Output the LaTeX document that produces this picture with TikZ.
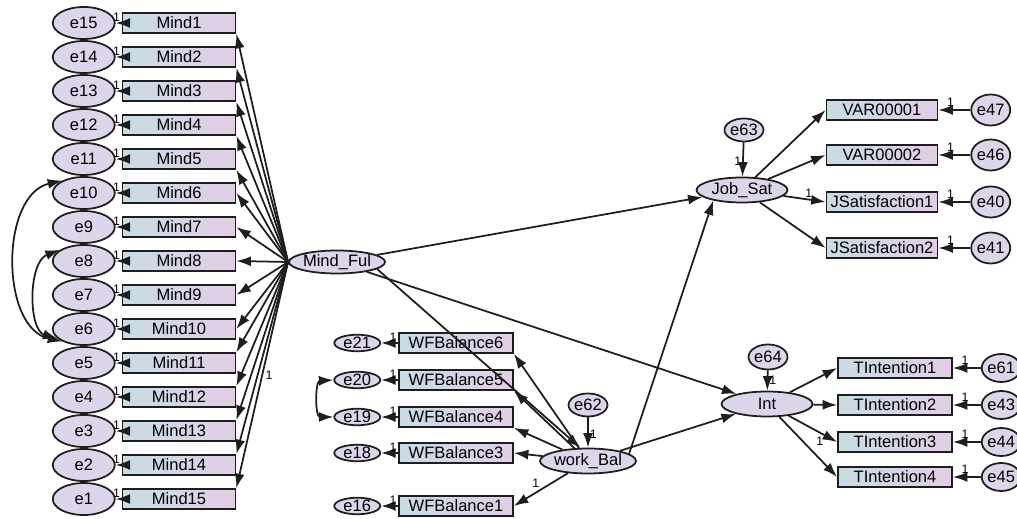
\documentclass[tikz,border=0pt]{standalone}
\usepackage{fontspec}
\setmainfont{Liberation Sans}
\usetikzlibrary{arrows.meta,chains,positioning,shapes.geometric}
\definecolor{lavfill}{RGB}{221,214,234}
\definecolor{boxleft}{RGB}{200,220,228}
\definecolor{boxright}{RGB}{226,206,230}
\definecolor{inkline}{RGB}{30,30,30}

\begin{document}
\begin{tikzpicture}[x=0.02cm, y=-0.02cm,
node distance = 2.45mm and 1.2mm,
  start chain = going below,
font=\fontsize{9.4}{11}\selectfont,
box/.style = {draw=inkline, line width=1pt,
              left color=boxleft, right color=boxright,
              minimum width=2.26cm, minimum height=0.4cm, inner sep=0pt},
mbox/.style = {box, on chain},
err/.style = {ellipse, draw=inkline, line width=1pt, fill=lavfill,
              inner sep=0pt, minimum width=1.24cm, minimum height=0.64cm},
smallerr/.style = {err, minimum width=0.92cm, minimum height=0.32cm},
rerr/.style = {err, minimum width=0.7cm, minimum height=0.62cm},
dist/.style = {err, minimum width=0.78cm, minimum height=0.46cm},
latent/.style = {err, minimum width=1.82cm, minimum height=0.5cm},
arr/.style = {draw=inkline, line width=1pt,
              -{Latex[length=2.9mm,width=2mm]}},
cov/.style = {arr, {Latex[length=2.9mm,width=2mm]}-{Latex[length=2.9mm,width=2mm]}},
one/.style = {font=\fontsize{7}{8}\selectfont, inner sep=0.5pt}
                ]
\useasboundingbox (0,0) rectangle (1017,519);

%% mindfulness items
\node (m1) [mbox] at (179,23) {Mind1};
\node (m2) [mbox] {Mind2};
\node (m3) [mbox] {Mind3};
\node (m4) [mbox] {Mind4};
\node (m5) [mbox] {Mind5};
\node (m6) [mbox] {Mind6};
\node (m7) [mbox] {Mind7};
\node (m8) [mbox] {Mind8};
\node (m9) [mbox] {Mind9};
\node (m10) [mbox] {Mind10};
\node (m11) [mbox] {Mind11};
\node (m12) [mbox] {Mind12};
\node (m13) [mbox] {Mind13};
\node (m14) [mbox] {Mind14};
\node (m15) [mbox] {Mind15};
\node (e15) [err, left=1.2mm of m1] {e15};
\node (e14) [err, left=1.2mm of m2] {e14};
\node (e13) [err, left=1.2mm of m3] {e13};
\node (e12) [err, left=1.2mm of m4] {e12};
\node (e11) [err, left=1.2mm of m5] {e11};
\node (e10) [err, left=1.2mm of m6] {e10};
\node (e9) [err, left=1.2mm of m7] {e9};
\node (e8) [err, left=1.2mm of m8] {e8};
\node (e7) [err, left=1.2mm of m9] {e7};
\node (e6) [err, left=1.2mm of m10] {e6};
\node (e5) [err, left=1.2mm of m11] {e5};
\node (e4) [err, left=1.2mm of m12] {e4};
\node (e3) [err, left=1.2mm of m13] {e3};
\node (e2) [err, left=1.2mm of m14] {e2};
\node (e1) [err, left=1.2mm of m15] {e1};
\node (mf) [latent, minimum height=0.46cm] at (337,262) {Mind\_Ful};

\draw[arr] (m1.west) -- node[one, pos=0, anchor=south east] {1} (e15);
\draw[arr] (m2.west) -- node[one, pos=0, anchor=south east] {1} (e14);
\draw[arr] (m3.west) -- node[one, pos=0, anchor=south east] {1} (e13);
\draw[arr] (m4.west) -- node[one, pos=0, anchor=south east] {1} (e12);
\draw[arr] (m5.west) -- node[one, pos=0, anchor=south east] {1} (e11);
\draw[arr] (m6.west) -- node[one, pos=0, anchor=south east] {1} (e10);
\draw[arr] (m7.west) -- node[one, pos=0, anchor=south east] {1} (e9);
\draw[arr] (m8.west) -- node[one, pos=0, anchor=south east] {1} (e8);
\draw[arr] (m9.west) -- node[one, pos=0, anchor=south east] {1} (e7);
\draw[arr] (m10.west) -- node[one, pos=0, anchor=south east] {1} (e6);
\draw[arr] (m11.west) -- node[one, pos=0, anchor=south east] {1} (e5);
\draw[arr] (m12.west) -- node[one, pos=0, anchor=south east] {1} (e4);
\draw[arr] (m13.west) -- node[one, pos=0, anchor=south east] {1} (e3);
\draw[arr] (m14.west) -- node[one, pos=0, anchor=south east] {1} (e2);
\draw[arr] (m15.west) -- node[one, pos=0, anchor=south east] {1} (e1);
\draw[cov] (e10.150) .. controls (0,195) and (0,328) .. (e6.210);
\draw[cov] (e8.155) .. controls (28,262) and (28,330) .. (e6.200);

\draw[arr] (mf.west) -- (m1.south east);
\draw[arr] (mf.west) -- (m2.south east);
\draw[arr] (mf.west) -- (m3.south east);
\draw[arr] (mf.west) -- (m4.south east);
\draw[arr] (mf.west) -- (m5.south east);
\draw[arr] (mf.west) -- (m6.east);
\draw[arr] (mf.west) -- (m7.east);
\draw[arr] (mf.west) -- (m8.east);
\draw[arr] (mf.west) -- (m9.east);
\draw[arr] (mf.west) -- (m10.east);
\draw[arr] (mf.west) -- (m11.north east);
\draw[arr] (mf.west) -- (m12.north east);
\draw[arr] (mf.west) -- (m13.north east);
\draw[arr] (mf.west) -- (m14.north east);
\draw[arr] (mf.west) -- node[one, pos=0.5, right=1pt] {1} (m15.north east);

%% work balance
\node (wf6) [box, minimum width=2.28cm] at (456,343) {WFBalance6};
\node (wf5) [box, minimum width=2.28cm] at (456,380) {WFBalance5};
\node (wf4) [box, minimum width=2.28cm] at (456,417) {WFBalance4};
\node (wf3) [box, minimum width=2.28cm] at (456,453) {WFBalance3};
\node (wf1) [box, minimum width=2.28cm] at (456,506) {WFBalance1};
\node (e21) [smallerr, left=3.4mm of wf6] {e21};
\node (e20) [smallerr, left=3.4mm of wf5] {e20};
\node (e19) [smallerr, left=3.4mm of wf4] {e19};
\node (e18) [smallerr, left=3.4mm of wf3] {e18};
\node (e16) [smallerr, left=3.4mm of wf1] {e16};
\node (wb) [latent] at (588,461) {work\_Bal};
\node (e62) [dist] at (588,405) {e62};

\draw[arr] (wf6.west) -- node[one, pos=0, anchor=south east] {1} (e21);
\draw[arr] (wf5.west) -- node[one, pos=0, anchor=south east] {1} (e20);
\draw[arr] (wf4.west) -- node[one, pos=0, anchor=south east] {1} (e19);
\draw[arr] (wf3.west) -- node[one, pos=0, anchor=south east] {1} (e18);
\draw[arr] (wf1.west) -- node[one, pos=0, anchor=south east] {1} (e16);
\draw[cov] (e20.west) .. controls (315,381) and (315,417) .. (e19.west);
\draw[arr] (e62) -- node[one, pos=0.55, right] {1} (wb);
\draw[arr] (wb) -- (wf6.south east);
\draw[arr] (wb) -- (wf5.south east);
\draw[arr] (wb) -- (wf4.south east);
\draw[arr] (wb) -- (wf3.east);
\draw[arr] (wb) -- node[one, pos=0.5, above left] {1} (wf1.east);

%% job satisfaction
\node (js) [latent] at (742,190) {Job\_Sat};
\node (e63) [dist] at (744,130) {e63};
\node (var1) [box, minimum width=2.22cm] at (882,110) {VAR00001};
\node (var2) [box, minimum width=2.22cm] at (882,155) {VAR00002};
\node (jsat1) [box, minimum width=2.22cm] at (882,202) {JSatisfaction1};
\node (jsat2) [box, minimum width=2.22cm] at (882,248) {JSatisfaction2};
\node (e47) [rerr, right=6.4mm of var1] {e47};
\node (e46) [rerr, right=6.4mm of var2] {e46};
\node (e40) [rerr, right=6.4mm of jsat1] {e40};
\node (e41) [rerr, right=6.4mm of jsat2] {e41};

\draw[arr] (e63) -- node[one, pos=0.55, left] {1} (js);
\draw[arr] (js) -- (var1.west);
\draw[arr] (js) -- (var2.west);
\draw[arr] (js) -- node[one, pos=0.6, above] {1} (jsat1.west);
\draw[arr] (js) -- (jsat2.west);
\draw[arr] (e47) -- node[one, pos=1, anchor=south west, xshift=4pt, yshift=1pt] {1} (var1.east);
\draw[arr] (e46) -- node[one, pos=1, anchor=south west, xshift=4pt, yshift=1pt] {1} (var2.east);
\draw[arr] (e40) -- node[one, pos=1, anchor=south west, xshift=4pt, yshift=1pt] {1} (jsat1.east);
\draw[arr] (e41) -- node[one, pos=1, anchor=south west, xshift=4pt, yshift=1pt] {1} (jsat2.east);

%% intention
\node (int) [latent] at (767,404) {Int};
\node (e64) [dist, minimum height=0.5cm] at (768,357) {e64};
\node (ti1) [box, minimum width=2.28cm] at (895,368) {TIntention1};
\node (ti2) [box, minimum width=2.28cm] at (895,405) {TIntention2};
\node (ti3) [box, minimum width=2.28cm] at (895,442) {TIntention3};
\node (ti4) [box, minimum width=2.28cm] at (895,477) {TIntention4};
\node (e61) [rerr, minimum width=0.68cm, minimum height=0.56cm, right=5.6mm of ti1] {e61};
\node (e43) [rerr, minimum width=0.68cm, minimum height=0.56cm, right=5.6mm of ti2] {e43};
\node (e44) [rerr, minimum width=0.68cm, minimum height=0.56cm, right=5.6mm of ti3] {e44};
\node (e45) [rerr, minimum width=0.68cm, minimum height=0.56cm, right=5.6mm of ti4] {e45};

\draw[arr] (e64) -- node[one, pos=0.5, right] {1} (int);
\draw[arr] (int) -- (ti1.west);
\draw[arr] (int) -- (ti2.west);
\draw[arr] (int) -- node[one, pos=0.75, below left] {1} (ti3.west);
\draw[arr] (int) -- (ti4.west);
\draw[arr] (e61) -- node[one, pos=1, anchor=south west, xshift=4pt, yshift=1pt] {1} (ti1.east);
\draw[arr] (e43) -- node[one, pos=1, anchor=south west, xshift=4pt, yshift=1pt] {1} (ti2.east);
\draw[arr] (e44) -- node[one, pos=1, anchor=south west, xshift=4pt, yshift=1pt] {1} (ti3.east);
\draw[arr] (e45) -- node[one, pos=1, anchor=south west, xshift=4pt, yshift=1pt] {1} (ti4.east);

%% structural paths
\draw[arr] (mf) -- (js);
\draw[arr] (mf) -- (int);
\draw[arr] (mf.-10) -- (wb.120);
\draw[arr] (wb.10) -- (js.200);
\draw[arr] (wb) -- (int);
%%
\end{tikzpicture}
\end{document}
